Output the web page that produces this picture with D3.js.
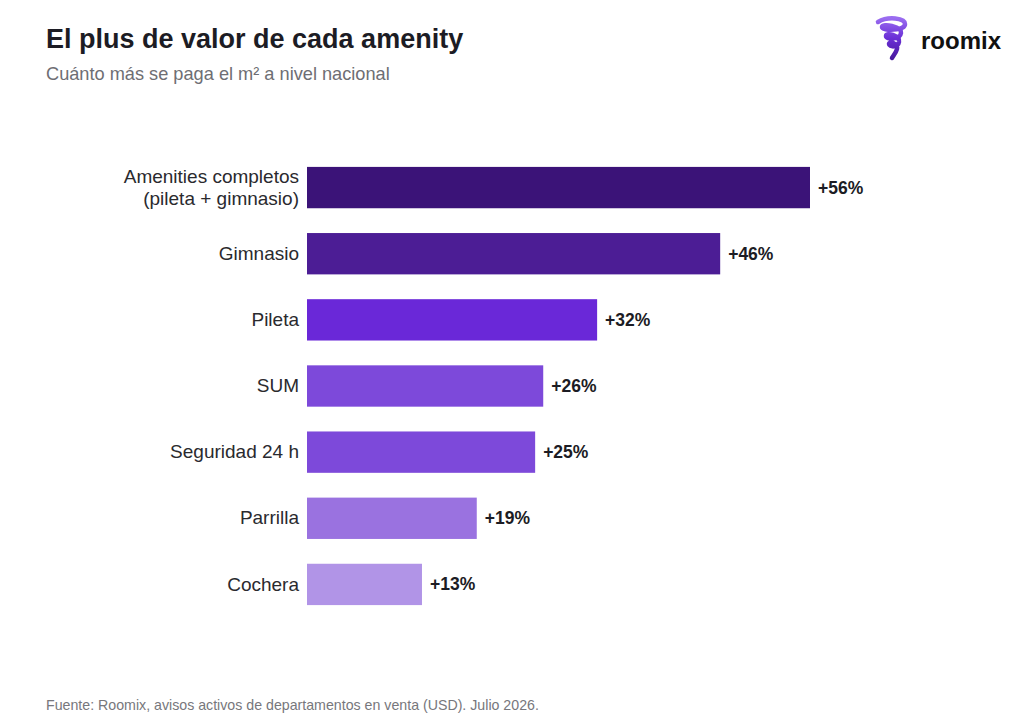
<!DOCTYPE html>
<html><head><meta charset="utf-8">
<script src="https://cdn.jsdelivr.net/npm/d3@7"></script>
<style>body{margin:0;background:#fff}svg{display:block;font-family:"Liberation Sans",Arial,sans-serif}</style>
</head><body>
<svg id="c" width="1024" height="728"></svg>
<script>
const categories = ["Amenities completos\n(pileta + gimnasio)","Gimnasio","Pileta","SUM","Seguridad 24 h","Parrilla","Cochera"];
const values = [56, 46, 32.3, 26.3, 25.4, 18.9, 12.8];
const labels = ["+56%","+46%","+32%","+26%","+25%","+19%","+13%"];
const colors = ["#3b1378","#4c1d95","#6a28d8","#7d49da","#7d49da","#9a72e0","#b194e7"];

const svg = d3.select("#c");
svg.append("rect").attr("width",1024).attr("height",728).attr("fill","#fff");

svg.append("text").attr("x",46).attr("y",48).attr("font-size",27).attr("font-weight","bold").attr("fill","#1c1c24").text("El plus de valor de cada amenity");
svg.append("text").attr("x",46).attr("y",80).attr("font-size",18.2).attr("fill","#6e6e73").text("Cuánto más se paga el m² a nivel nacional");
svg.append("text").attr("x",46).attr("y",710).attr("font-size",14.2).attr("fill","#77777c").text("Fuente: Roomix, avisos activos de departamentos en venta (USD). Julio 2026.");

// logo
const defs = svg.append("defs");
const grad = defs.append("linearGradient").attr("id","lgd").attr("x1",0).attr("y1",0).attr("x2",0).attr("y2",1);
grad.append("stop").attr("offset",0).attr("stop-color","#9a6cf0");
grad.append("stop").attr("offset",0.5).attr("stop-color","#6a2fd6");
grad.append("stop").attr("offset",1).attr("stop-color","#4a1aa0");
const lg = svg.append("g");
lg.append("path").attr("d","M878,22 C888,16 905,18 905,24 C905,31 882,31 882,27 C882,23 902,26 901,33 C900,40 886,40 886,36 C886,32 900,35 899,42 C898,48 889,47 889,44 C889,41 898,43 897,49 C896,53 893,56 892,58")
  .attr("fill","none").attr("stroke","url(#lgd)").attr("stroke-width",4.5).attr("stroke-linecap","round").attr("stroke-linejoin","round");
svg.append("text").attr("x",921).attr("y",49).attr("font-size",24).attr("font-weight","bold").attr("fill","#111").text("roomix");

const x = d3.scaleLinear().domain([0,56]).range([307,810]);
const y = d3.scaleBand().domain(categories).range([155,617]).paddingInner(0.375).paddingOuter(0.18);

const g = svg.append("g");
g.selectAll("rect.bar").data(categories).join("rect").attr("class","bar")
  .attr("x",x(0)).attr("y",d=>y(d)).attr("height",y.bandwidth())
  .attr("width",(d,i)=>x(values[i])-x(0)).attr("fill",(d,i)=>colors[i]);

g.selectAll("text.val").data(categories).join("text").attr("class","val")
  .attr("x",(d,i)=>x(values[i])+8).attr("y",d=>y(d)+y.bandwidth()/2+6)
  .attr("font-size",17.5).attr("font-weight","bold").attr("fill","#1c1c24").text((d,i)=>labels[i]);

const yAxis = d3.axisLeft(y).tickSize(0).tickPadding(8);
const ax = svg.append("g").attr("transform","translate(307,0)").call(yAxis);
ax.select(".domain").remove();
ax.selectAll(".tick text").attr("font-size",19).attr("fill","#2a2a2e").attr("font-family","Liberation Sans, Arial, sans-serif")
  .each(function(d){
    const lines = d.split("\n");
    const t = d3.select(this).text(null);
    const n = lines.length;
    lines.forEach((l,k)=>t.append("tspan").attr("x",-8).attr("dy", k===0 ? ((-(n-1)/2)*1.15+0.32)+"em" : "1.15em").text(l));
    t.attr("dy",null);
  });
</script>
</body></html>
